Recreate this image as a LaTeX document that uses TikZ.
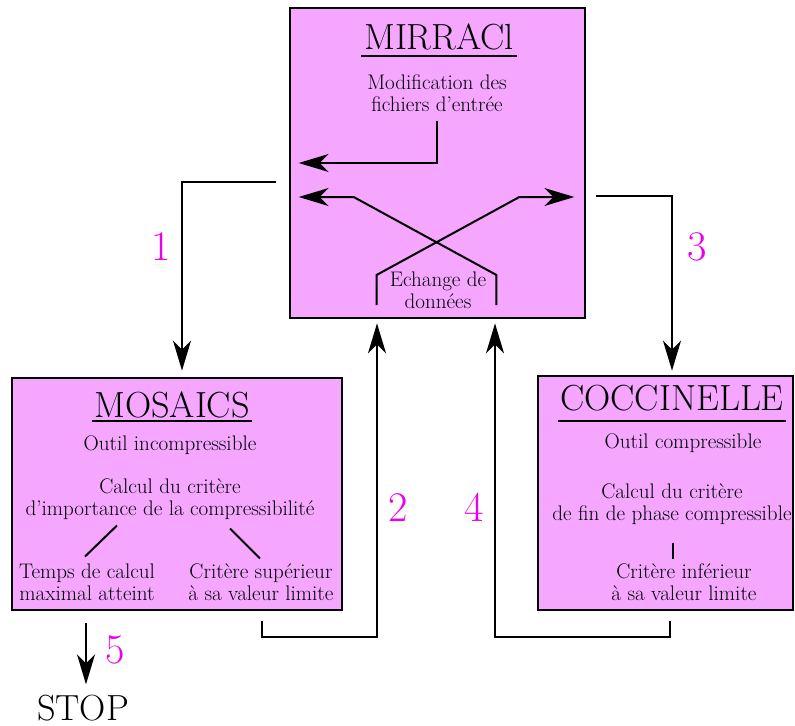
\documentclass[tikz,border=0pt]{standalone}
\usepackage{tikz}
\usetikzlibrary{arrows.meta,positioning,calc}
\definecolor{mypink}{RGB}{245,166,255}
\definecolor{mymagenta}{RGB}{235,0,235}

\begin{document}
\begin{tikzpicture}[
    x=0.3mm, y=-0.3mm,
    tool/.style={rectangle, draw, line width=0.8mm, fill=mypink, inner sep=0pt},
    title/.style={font=\fontsize{31}{36}\selectfont, inner sep=0pt, anchor=base},
    txt/.style={font=\fontsize{18}{18.5}\selectfont, align=center, inner sep=0pt},
    num/.style={font=\fontsize{36}{40}\selectfont, text=mymagenta, inner sep=0pt},
    arrow/.style={-{Stealth[length=9mm, width=5.4mm, inset=2.7mm]}, line width=0.6mm},
    link/.style={line width=0.6mm},
    uline/.style={line width=0.6mm},
]
    \useasboundingbox (0,0) rectangle (795,726);

    % The three tools
    \node[tool, minimum width=88.5mm, minimum height=93mm] (mirraci) at (437.5,163) {};
    \node[tool, minimum width=99mm, minimum height=69.6mm] (mosaics) at (177,494) {};
    \node[tool, minimum width=76.5mm, minimum height=70.2mm] (cocci) at (665.5,493) {};

    % MIRRACl
    \node[title] (tmirraci) at (439,50) {MIRRACl};
    \draw[uline] ($(tmirraci.base west)+(-3,6)$) -- ($(tmirraci.base east)+(3,6)$);
    \node[txt] (modif) at (437,93) {Modification des\\fichiers d'entrée};
    \node[txt] (echange) at (438,290) {Echange de\\données};
    \draw[arrow] ($(modif.south)+(0,9)$) |- ($(mirraci.west)+(10,0)$);
    \draw[arrow] ($(echange.east)+(10,15)$) -- ++(0,-30) -- ($(mirraci.west)+(65,34)$) -- ($(mirraci.west)+(10,34)$);
    \draw[arrow] ($(echange.west)+(-13,15)$) -- ++(0,-30) -- ($(mirraci.east)+(-67,34)$) -- ($(mirraci.east)+(-12,34)$);

    % MOSAICS
    \node[title] (tmosaics) at (172,417) {MOSAICS};
    \draw[uline] ($(tmosaics.base west)+(-2,4)$) -- ($(tmosaics.base east)+(2,4)$);
    \node[txt, anchor=base] (incomp) at (170,450) {Outil incompressible};
    \node[txt] (calc1) at (170,499) {Calcul du critère\\d'importance de la compressibilité};
    \node[txt] (temps) at (87,582) {Temps de calcul\\maximal atteint};
    \node[txt] (critsup) at (261,582) {Critère supérieur\\à sa valeur limite};
    \draw[link] ($(calc1.south)+(-53,6)$) -- ($(temps.north)+(-2,-7)$);
    \draw[link] ($(calc1.south)+(60,9)$) -- ($(critsup.north)+(-1,-5)$);

    % COCCINELLE
    \node[title] (tcocci) at (672,410) {COCCINELLE};
    \draw[uline] ($(tcocci.base west)+(-2,11)$) -- ($(tcocci.base east)+(2,11)$);
    \node[txt, anchor=base] (comp) at (683,448) {Outil compressible};
    \node[txt] (calc2) at (672,504) {Calcul du critère\\de fin de phase compressible};
    \node[txt] (critinf) at (684,582) {Critère inférieur\\à sa valeur limite};
    \draw[link] ($(calc2.south)+(1,18)$) -- ($(critinf.north)+(-11,-4)$);

    % Links between tools
    \draw[arrow] ($(mirraci.west)+(-13,19)$) -| ($(mosaics.north)+(5,-6)$);
    \draw[arrow] ($(mirraci.east)+(10,33)$) -| ($(cocci.north)+(6.5,-4)$);
    \draw[arrow] ($(mosaics.south)+(85,10)$) -- ++(0,16) -| ($(mirraci.south)+(-60.5,4)$);
    \draw[arrow] ($(cocci.south)+(4.5,10)$) -- ++(0,16) -| ($(mirraci.south)+(57.5,4)$);
    \node[title] (stop) at (83,720) {STOP};
    \draw[arrow] ($(mosaics.south)+(-91,12)$) -- ($(stop.north)+(3,-10)$);

    % Step numbers
    \node[num] (n1) at (161,247) {1};
    \node[num] (n2) at (398,508) {2};
    \node[num] (n3) at (697,247) {3};
    \node[num] (n4) at (474,507) {4};
    \node[num] (n5) at (115,650) {5};
\end{tikzpicture}
\end{document}
